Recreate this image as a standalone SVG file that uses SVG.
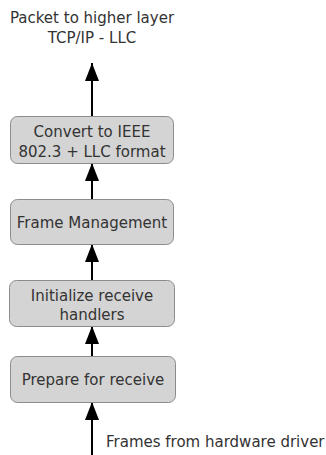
<svg xmlns="http://www.w3.org/2000/svg" width="326" height="455" viewBox="0 0 326 455">
<style>
.box{fill:#d4d4d4;stroke:#8c8c8c;stroke-width:1}
.t{font-family:"DejaVu Sans",Verdana,sans-serif;font-size:15px;fill:#333;text-anchor:middle}
.l{font-family:"DejaVu Sans",Verdana,sans-serif;font-size:15px;fill:#333}
.c{stroke:#000;stroke-width:2;fill:none}
</style>
<defs>
<marker id="ah" viewBox="0 0 18 14" refX="18" refY="7" markerWidth="18" markerHeight="14" markerUnits="userSpaceOnUse" orient="auto">
<path d="M0,0 L18,7 L0,14 Z" fill="#000"/>
</marker>
</defs>
<g id="connectors">
<line class="c" x1="92" y1="116" x2="92" y2="63" marker-end="url(#ah)"/>
<line class="c" x1="92" y1="199" x2="92" y2="163" marker-end="url(#ah)"/>
<line class="c" x1="92" y1="280" x2="92" y2="244" marker-end="url(#ah)"/>
<line class="c" x1="92" y1="356" x2="92" y2="326" marker-end="url(#ah)"/>
<line class="c" x1="92" y1="455" x2="92" y2="402" marker-end="url(#ah)"/>
</g>
<g id="label-top">
<text class="t" x="92" y="23">Packet to higher layer</text>
<text class="t" x="92" y="43">TCP/IP - LLC</text>
</g>
<g id="node-convert">
<rect class="box" x="10.5" y="116.5" width="163" height="47" rx="7"/>
<text class="t" x="92" y="137">Convert to IEEE</text>
<text class="t" x="92" y="157">802.3 + LLC format</text>
</g>
<g id="node-frame">
<rect class="box" x="10.5" y="199.5" width="163" height="45" rx="7"/>
<text class="t" x="92" y="228">Frame Management</text>
</g>
<g id="node-init">
<rect class="box" x="9.5" y="280.5" width="165" height="46" rx="7"/>
<text class="t" x="92" y="301">Initialize receive</text>
<text class="t" x="92" y="320">handlers</text>
</g>
<g id="node-prepare">
<rect class="box" x="10.5" y="356.5" width="165" height="46" rx="7"/>
<text class="t" x="93" y="385">Prepare for receive</text>
</g>
<g id="label-bottom">
<text class="l" x="106" y="447">Frames from hardware driver</text>
</g>
</svg>
